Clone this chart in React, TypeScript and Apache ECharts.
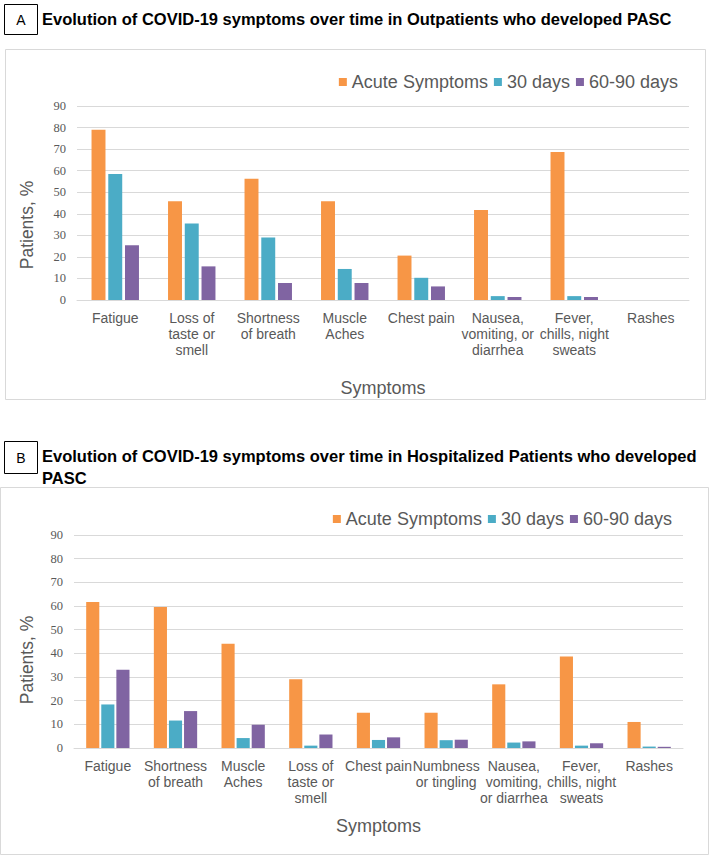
import React, { useEffect, useRef } from "react";
import * as echarts from "echarts";

const seriesNames = ["Acute Symptoms", "30 days", "60-90 days"];
const colors = ["#F79646", "#4BACC6", "#8064A2"];

const catsA = [
  "Fatigue",
  "Loss of\ntaste or\nsmell",
  "Shortness\nof breath",
  "Muscle\nAches",
  "Chest pain",
  "Nausea,\nvomiting, or\ndiarrhea",
  "Fever,\nchills, night\nsweats",
  "Rashes",
];
const acuteA = [79, 45.8, 56.3, 45.8, 20.6, 41.7, 68.7, 0];
const d30A = [58.5, 35.5, 29, 14.4, 10.3, 1.8, 1.8, 0];
const d60A = [25.4, 15.6, 7.9, 7.9, 6.3, 1.4, 1.4, 0];

const catsB = [
  "Fatigue",
  "Shortness\nof breath",
  "Muscle\nAches",
  "Loss of\ntaste or\nsmell",
  "Chest pain",
  "Numbness\nor tingling",
  "Nausea,\nvomiting,\nor diarrhea",
  "Fever,\nchills, night\nsweats",
  "Rashes",
];
const acuteB = [61.7, 59.6, 44, 29, 14.9, 14.9, 26.9, 38.7, 11];
const d30B = [18.4, 11.6, 4.2, 1, 3.4, 3.3, 2.3, 1, 0.6];
const d60B = [33.1, 15.6, 9.8, 5.7, 4.5, 3.5, 2.8, 2, 0.5];

const yTicks = { min: 0, max: 90, interval: 10 };

const titleA = "Evolution of COVID-19 symptoms over time in Outpatients who developed PASC";
const titleB = "Evolution of COVID-19 symptoms over time in Hospitalized Patients who developed\nPASC";
const yName = "Patients, %";
const xName = "Symptoms";

const SANS = "'Liberation Sans', Arial, sans-serif";
const SERIF = "'Liberation Serif', 'Times New Roman', serif";
const GRAY = "#595959";

export default function App() {
  const ref = useRef<HTMLDivElement>(null);
  useEffect(() => {
    if (!ref.current) return;
    const chart = echarts.init(ref.current, undefined, { renderer: "svg" });

    const mkX = (cats: string[], gridIndex: number) => ({
      type: "category",
      gridIndex,
      data: cats,
      axisLine: { show: true, lineStyle: { color: "#d9d9d9", width: 1 } },
      axisTick: { show: false },
      axisLabel: {
        interval: 0,
        color: GRAY,
        fontFamily: SANS,
        fontSize: 14,
        lineHeight: 16,
        margin: 10,
      },
      name: xName,
      nameLocation: "middle",
      nameGap: gridIndex === 0 ? 79 : 69,
      nameTextStyle: { color: GRAY, fontFamily: SANS, fontSize: 18 },
    });
    const mkY = (gridIndex: number) => ({
      type: "value",
      gridIndex,
      min: yTicks.min,
      max: yTicks.max,
      interval: yTicks.interval,
      axisLine: { show: false },
      axisTick: { show: false },
      splitLine: { lineStyle: { color: "#d9d9d9", width: 1 } },
      axisLabel: { color: GRAY, fontFamily: SERIF, fontSize: 12.5, margin: 11 },
    });

    const mkSeries = (data: number[], i: number, g: number) => ({
      type: "bar",
      name: seriesNames[i],
      xAxisIndex: g,
      yAxisIndex: g,
      data,
      itemStyle: { color: colors[i] },
      barGap: g === 0 ? "20%" : "15%",
      barCategoryGap: g === 0 ? "38%" : "36%",
    });

    const legendBase = {
      data: seriesNames,
      icon: "rect",
      itemWidth: 8,
      itemHeight: 8,
      itemGap: 6,
      textStyle: { color: GRAY, fontFamily: SANS, fontSize: 18 },
      selectedMode: false,
    };

    const yNameText = (y: number) => ({
      type: "text",
      x: 27,
      y,
      rotation: Math.PI / 2,
      style: {
        text: yName,
        fontFamily: SANS,
        fontSize: 17.5,
        fill: GRAY,
        align: "center",
        verticalAlign: "middle",
      },
    });

    chart.setOption({
      animation: false,
      color: colors,
      grid: [
        { left: 77, right: 21, top: 106, bottom: 557 },
        { left: 74, right: 27, top: 535, bottom: 109 },
      ],
      xAxis: [mkX(catsA, 0), mkX(catsB, 1)],
      yAxis: [mkY(0), mkY(1)],
      legend: [
        { ...legendBase, right: 27, top: 68 },
        { ...legendBase, right: 33, top: 505 },
      ],
      series: [
        mkSeries(acuteA, 0, 0),
        mkSeries(d30A, 1, 0),
        mkSeries(d60A, 2, 0),
        mkSeries(acuteB, 0, 1),
        mkSeries(d30B, 1, 1),
        mkSeries(d60B, 2, 1),
      ],
      graphic: [
        {
          type: "rect",
          shape: { x: 5.5, y: 49.5, width: 700, height: 350 },
          style: { fill: "none", stroke: "#d9d9d9", lineWidth: 1 },
          z: -1,
        },
        {
          type: "rect",
          shape: { x: 0.5, y: 487.5, width: 708, height: 367 },
          style: { fill: "none", stroke: "#d9d9d9", lineWidth: 1 },
          z: -1,
        },
        yNameText(225),
        yNameText(660),
        {
          type: "rect",
          shape: { x: 4.5, y: 4.5, width: 33, height: 30 },
          style: { fill: "#fff", stroke: "#000", lineWidth: 1 },
        },
        {
          type: "text",
          x: 21,
          y: 19.5,
          style: {
            text: "A",
            fontFamily: SANS,
            fontSize: 14,
            fill: "#000",
            align: "center",
            verticalAlign: "middle",
          },
        },
        {
          type: "text",
          x: 42,
          y: 19,
          style: {
            text: titleA,
            fontFamily: SANS,
            fontWeight: "bold",
            fontSize: 16.5,
            fill: "#000",
            align: "left",
            verticalAlign: "middle",
          },
        },
        {
          type: "rect",
          shape: { x: 4.5, y: 441.5, width: 33, height: 32 },
          style: { fill: "#fff", stroke: "#000", lineWidth: 1 },
        },
        {
          type: "text",
          x: 21,
          y: 457.5,
          style: {
            text: "B",
            fontFamily: SANS,
            fontSize: 14,
            fill: "#000",
            align: "center",
            verticalAlign: "middle",
          },
        },
        {
          type: "text",
          x: 42,
          y: 445,
          style: {
            text: titleB,
            fontFamily: SANS,
            fontWeight: "bold",
            fontSize: 16.5,
            lineHeight: 22,
            fill: "#000",
            align: "left",
            verticalAlign: "top",
          },
        },
      ],
    });
    return () => chart.dispose();
  }, []);

  return (
    <div
      ref={ref}
      style={{ position: "absolute", left: 0, top: 0, width: 710, height: 857, background: "#fff" }}
    />
  );
}
